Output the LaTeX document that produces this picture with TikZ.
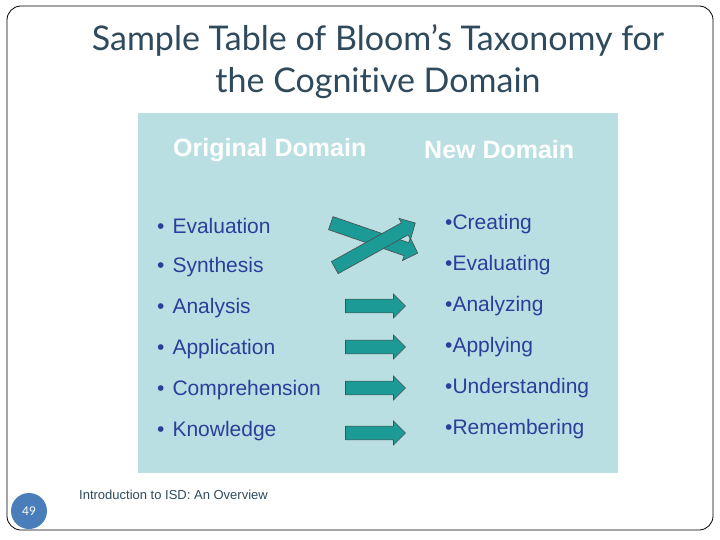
\documentclass[tikz,border=0pt]{standalone}
\usepackage{fontspec}
\setmainfont{Liberation Sans}
\newfontfamily\titlefont[Ligatures=NoCommon]{Lato}
\usetikzlibrary{shapes.arrows}
\definecolor{panel}{HTML}{BADFE3}
\definecolor{teal}{HTML}{1B9A96}
\definecolor{itemblue}{HTML}{2A3F9A}
\definecolor{titlegray}{HTML}{2E4A5C}
\definecolor{pagecircle}{HTML}{4A7EBB}
\tikzset{
	item/.style={anchor=west, text=itemblue, font=\fontsize{21}{22}\selectfont, inner sep=0},
	head/.style={anchor=west, text=white, font=\bfseries\fontsize{25}{26}\selectfont, inner sep=0},
	blockarrow/.style={single arrow, draw=black!70, fill=teal, line width=0.6pt,
		minimum height=60pt, minimum width=24pt, single arrow head extend=5pt, inner sep=6.5pt},
}
\begin{document}
\begin{tikzpicture}[x=1pt, y=-1pt]
	\useasboundingbox (0,0) rectangle (720,540);
	% Slide frame
	\draw[black, line width=0.8pt, rounded corners=14pt] (7,6) rectangle (713,530);
	\node[text=titlegray, font=\titlefont\fontsize{34}{42}\selectfont, align=center] (title) at (378,62)
		{Sample Table of Bloom’s Taxonomy for\\the Cognitive Domain};

	% Panel
	\fill[panel] (138,113) rectangle (618,473);
	\node[head] (orig) at (173,150) {Original Domain};
	\node[head] (new) at (424,150) {New Domain};

	% Left column
	\node[item] (l1) at (157,226) {•\hspace{8pt}Evaluation};
	\node[item] (l2) at (157,267) {•\hspace{8pt}Synthesis};
	\node[item] (l3) at (157,308) {•\hspace{8pt}Analysis};
	\node[item] (l4) at (157,349) {•\hspace{8pt}Application};
	\node[item] (l5) at (157,390) {•\hspace{8pt}Comprehension};
	\node[item] (l6) at (157,431) {•\hspace{8pt}Knowledge};

	% Right column
	\node[item] (r1) at (445,224) {•Creating};
	\node[item] (r2) at (445,265) {•Evaluating};
	\node[item] (r3) at (445,306) {•Analyzing};
	\node[item] (r4) at (445,347) {•Applying};
	\node[item] (r5) at (445,388) {•Understanding};
	\node[item] (r6) at (445,429) {•Remembering};

	% Arrows
	\node[blockarrow, minimum height=92pt, rotate=-19] (a1) at (371,237) {};
	\node[blockarrow, minimum height=92pt, rotate=29] (a2) at (372,247) {};
	\node[blockarrow] (a3) at (372,306) {};
	\node[blockarrow] (a4) at (372,347) {};
	\node[blockarrow] (a5) at (372,388) {};
	\node[blockarrow] (a6) at (372,433) {};

	% Footer
	\node[circle, fill=pagecircle, minimum size=36pt, inner sep=0, text=white,
		font=\titlefont\fontsize{12}{12}\selectfont] (page) at (29,511) {49};
	\node[anchor=west, text=titlegray, font=\fontsize{13}{14}\selectfont, inner sep=0] (foot) at (79,495)
		{Introduction to ISD: An Overview};
\end{tikzpicture}
\end{document}
